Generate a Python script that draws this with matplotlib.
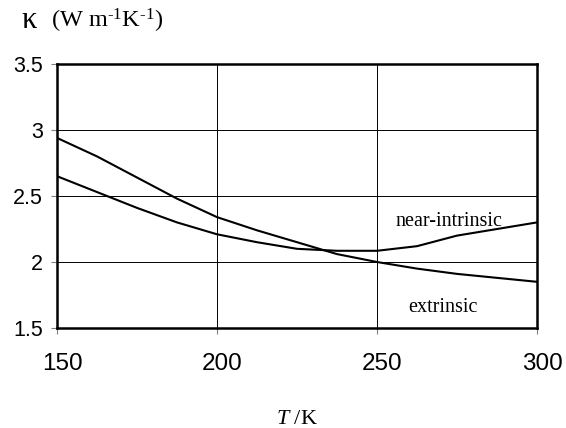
import matplotlib
matplotlib.use('Agg')
import matplotlib.pyplot as plt
import matplotlib.transforms as mtransforms

plt.rcParams['mathtext.fontset'] = 'custom'
plt.rcParams['mathtext.rm'] = 'Liberation Serif'
plt.rcParams['mathtext.it'] = 'Liberation Serif:italic'

# temperatura, K
T_extr = [150, 162.5, 175, 187.5, 200, 212.5, 225, 237.5, 250, 262.5, 275, 287.5, 300]
k_extr = [2.94, 2.80, 2.64, 2.48, 2.34, 2.24, 2.15, 2.06, 2.00, 1.95, 1.91, 1.88, 1.85]

T_near = [150, 162.5, 175, 187.5, 200, 212.5, 225, 237.5, 250, 262.5, 275, 287.5, 300]
k_near = [2.65, 2.53, 2.41, 2.30, 2.21, 2.15, 2.10, 2.085, 2.085, 2.12, 2.20, 2.25, 2.30]

xticks = [150, 200, 250, 300]
yticks = [1.5, 2, 2.5, 3, 3.5]

fig = plt.figure(figsize=(5.66, 4.28), dpi=100)
ax = fig.add_axes([0.1007, 0.2336, 0.8481, 0.6169])

ax.plot(T_extr, k_extr, color='black', lw=1.5)
ax.plot(T_near, k_near, color='black', lw=1.5)

ax.set_xlim(150, 300)
ax.set_ylim(1.5, 3.5)
ax.set_xticks(xticks)
ax.set_yticks(yticks)
ax.set_yticklabels(['1.5', '2', '2.5', '3', '3.5'])
ax.grid(True, color='black', lw=0.7)

for s in ax.spines.values():
    s.set_linewidth(1.8)
    s.set_color('black')

ax.tick_params(axis='y', direction='out', length=4.3, width=0.8, color='gray',
               pad=5.8, labelsize=15.5)
ax.tick_params(axis='x', direction='out', length=4.3, width=0.8, color='gray',
               pad=13.5, labelsize=17.5)
for lab in ax.get_yticklabels() + ax.get_xticklabels():
    lab.set_family('Liberation Sans')
off = mtransforms.ScaledTranslation(5 / 100, 0, fig.dpi_scale_trans)
for lab in ax.get_xticklabels():
    lab.set_transform(lab.get_transform() + off)

ax.set_xlabel(r'$\mathit{T}$ /K', fontsize=16, family='Liberation Serif', va='top')
ax.xaxis.set_label_coords(0.5, -0.31)

# κ glyph is drawn larger than the units
fig.text(21 / 566, 1 - 28 / 428, 'κ', fontsize=22, family='Liberation Serif',
         ha='left', va='baseline')
fig.text(51 / 566, 1 - 28 / 428, '(W m$^{\\mathrm{\u20101}}$K$^{\\mathrm{\u20101}}$)',
         fontsize=17.5, family='Liberation Serif', ha='left', va='baseline')

ax.text(272.5, 2.305, 'near-intrinsic', fontsize=14.5, family='Liberation Serif',
        ha='center', va='center')
ax.text(270.6, 1.652, 'extrinsic', fontsize=14.5, family='Liberation Serif',
        ha='center', va='center')

fig.savefig('out.png', dpi=100)
